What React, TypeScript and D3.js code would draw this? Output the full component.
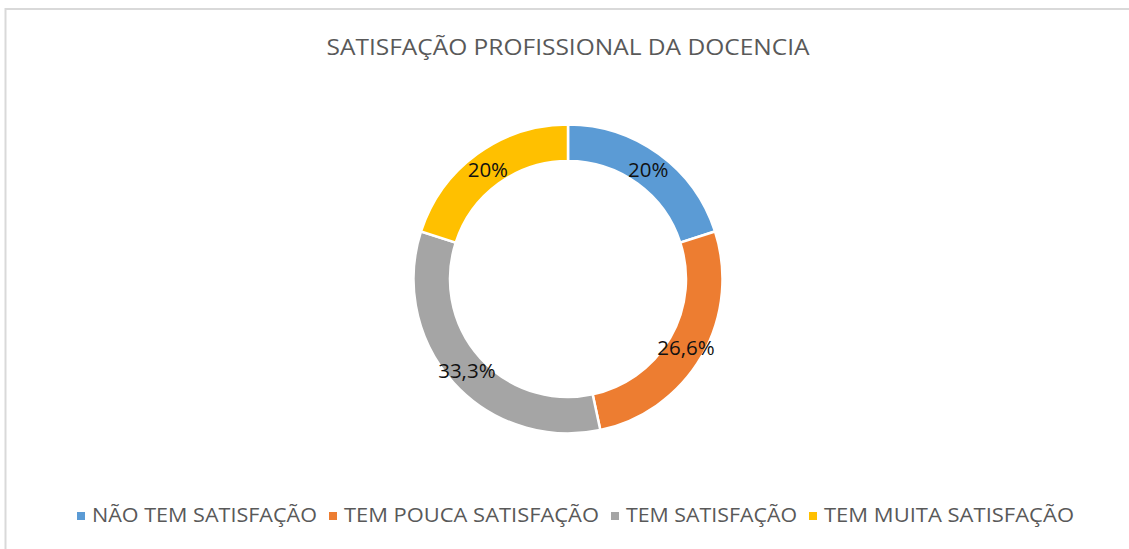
import React from "react";
import * as d3 from "d3";

const categories = ["NÃO TEM SATISFAÇÃO", "TEM POUCA SATISFAÇÃO", "TEM SATISFAÇÃO", "TEM MUITA SATISFAÇÃO"];
const values = [20, 26.6, 33.3, 20];
const valueLabels = ["20%", "26,6%", "33,3%", "20%"];
const colors = ["#5B9BD5", "#ED7D31", "#A5A5A5", "#FFC000"];
const title = "SATISFAÇÃO PROFISSIONAL DA DOCENCIA";

const W = 1129;
const H = 549;
const CX = 568;
const CY = 279;
const R_OUT = 154.5;
const R_IN = 118;
const FONT = "'Open Sans', 'Liberation Sans', sans-serif";

// legend layout (style constants)
const legendStart = 77;
const legendSq = 8;
const legendTextGap = 15;
const legendTextWidths = [225, 255, 171, 250];
const legendItemGap = 12;

export default function App() {
  const pie = d3.pie<number>().value((d) => d).sort(null);
  const arcs = pie(values);
  const arcGen = d3.arc<d3.PieArcDatum<number>>().innerRadius(R_IN).outerRadius(R_OUT);
  const labelArc = d3
    .arc<d3.PieArcDatum<number>>()
    .innerRadius((R_IN + R_OUT) / 2)
    .outerRadius((R_IN + R_OUT) / 2);

  let x = legendStart;
  const legendItems = categories.map((c, i) => {
    const item = { sqX: x, textX: x + legendTextGap, w: legendTextWidths[i], label: c, color: colors[i] };
    x = x + legendTextGap + legendTextWidths[i] + legendItemGap;
    return item;
  });

  return (
    <svg
      width={W}
      height={H}
      style={{ position: "fixed", left: 0, top: 0, background: "#fff" }}
    >
      <rect x={0} y={0} width={W} height={H} fill="#fff" />
      <rect x={5.5} y={9} width={W + 50} height={H + 50} fill="#fff" stroke="#d9d9d9" strokeWidth={2} />
      <text
        x={CX}
        y={54.5}
        textAnchor="middle"
        fontFamily={FONT}
        fontSize={22}
        fill="#595959"
        textLength={483}
        lengthAdjust="spacingAndGlyphs"
      >
        {title}
      </text>
      <g transform={`translate(${CX},${CY})`}>
        {arcs.map((a, i) => (
          <path key={i} d={arcGen(a) || ""} fill={colors[i]} stroke="#fff" strokeWidth={2.5} />
        ))}
        {arcs.map((a, i) => {
          const [lx, ly] = labelArc.centroid(a);
          return (
            <text
              key={"l" + i}
              x={lx}
              y={ly}
              textAnchor="middle"
              dominantBaseline="central"
              fontFamily={FONT}
              fontSize={20.5}
              fill="#111"
            >
              {valueLabels[i]}
            </text>
          );
        })}
      </g>
      {legendItems.map((it, i) => (
        <g key={"lg" + i}>
          <rect x={it.sqX} y={512} width={legendSq} height={legendSq} fill={it.color} />
          <text
            x={it.textX}
            y={522}
            fontFamily={FONT}
            fontSize={19.5}
            fill="#595959"
            textLength={it.w}
            lengthAdjust="spacingAndGlyphs"
          >
            {it.label}
          </text>
        </g>
      ))}
    </svg>
  );
}
